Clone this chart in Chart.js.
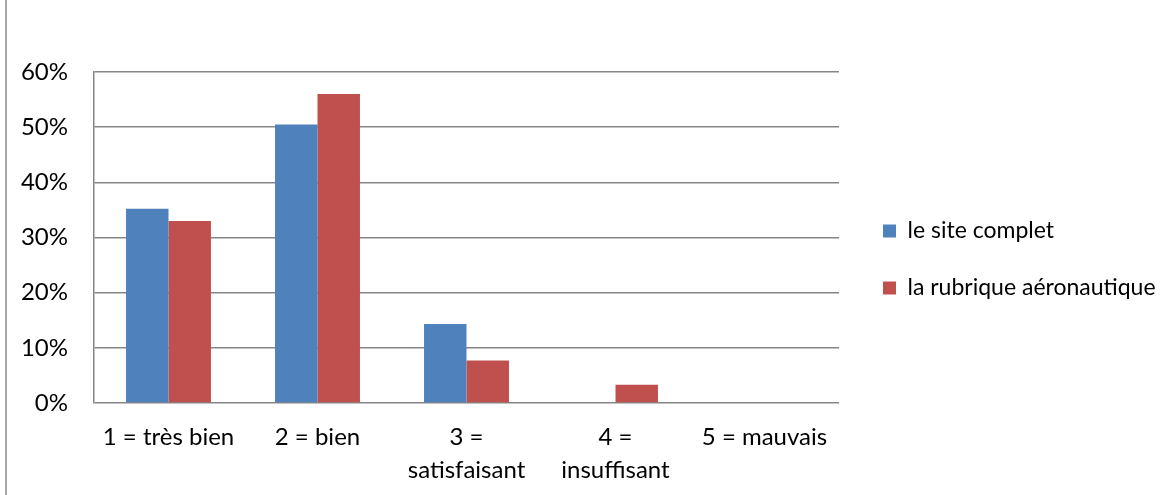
<!DOCTYPE html>
<html>
<head>
<meta charset="utf-8">
<script src="https://cdn.jsdelivr.net/npm/chart.js@4"></script>
<style>
  html, body { margin: 0; padding: 0; background: #ffffff; }
  #wrap { position: relative; width: 1164px; height: 495px; overflow: hidden; }
  #frame { position: absolute; left: 5px; top: 0; height: 495px; width: 0; border-left: 2px solid #a6a6a6; }
  #c { position: absolute; left: 0; top: 0; }
</style>
</head>
<body>
<div id="wrap">
  <div id="frame"></div>
  <canvas id="c" width="1164" height="495"></canvas>
</div>
<script>
const categories = [
  '1 = très bien',
  '2 = bien',
  ['3 =', 'satisfaisant'],
  ['4 =', 'insuffisant'],
  '5 = mauvais'
];
const seriesNames = ['le site complet', 'la rubrique aéronautique'];
const siteComplet = [35.2, 50.5, 14.3, 0, 0];
const rubriqueAero = [33.0, 56.0, 7.7, 3.3, 0];
const yTicks = [0, 10, 20, 30, 40, 50, 60];

const FONT = 'Lato, "DejaVu Sans", sans-serif';
const FSIZE = 24;
const LSIZE = 23;
const GRID = '#868686';

Chart.defaults.font.family = FONT;
Chart.defaults.font.size = FSIZE;
Chart.defaults.color = '#000000';

new Chart(document.getElementById('c'), {
  type: 'bar',
  data: {
    labels: categories,
    datasets: [
      { label: seriesNames[0], data: siteComplet, backgroundColor: '#4F81BD', borderWidth: 0 },
      { label: seriesNames[1], data: rubriqueAero, backgroundColor: '#C0504D', borderWidth: 0 }
    ]
  },
  options: {
    responsive: false,
    animation: false,
    devicePixelRatio: 1,
    layout: { padding: { left: 0, top: 72, right: 0, bottom: 0 } },
    datasets: { bar: { categoryPercentage: 0.57, barPercentage: 1.0 } },
    scales: {
      x: {
        grid: { display: false },
        border: { display: false },
        ticks: {
          padding: 10,
          maxRotation: 0,
          autoSkip: false,
          font: { size: FSIZE, lineHeight: 33 / FSIZE }
        },
        afterFit: s => { s.height = 92; }
      },
      y: {
        min: 0,
        max: 60,
        afterBuildTicks: s => { s.ticks = yTicks.map(v => ({ value: v })); },
        grid: { color: GRID, lineWidth: 1.5, drawTicks: false },
        border: { color: GRID, width: 1.5 },
        ticks: { padding: 26, callback: v => v + '%' },
        afterFit: s => { s.width = 94; }
      },
      y2: {
        type: 'linear',
        position: 'right',
        display: true,
        grid: { display: false },
        border: { display: false },
        ticks: { display: false },
        afterFit: s => { s.width = 10; }
      }
    },
    plugins: {
      tooltip: { enabled: false },
      legend: {
        position: 'right',
        fullSize: false,
        maxWidth: 315,
        title: { display: true, text: '', padding: 0, font: { size: 44, lineHeight: 1 } },
        labels: {
          boxWidth: 13,
          boxHeight: 13,
          padding: 34,
          font: { size: LSIZE }
        }
      }
    }
  }
});
</script>
</body>
</html>
